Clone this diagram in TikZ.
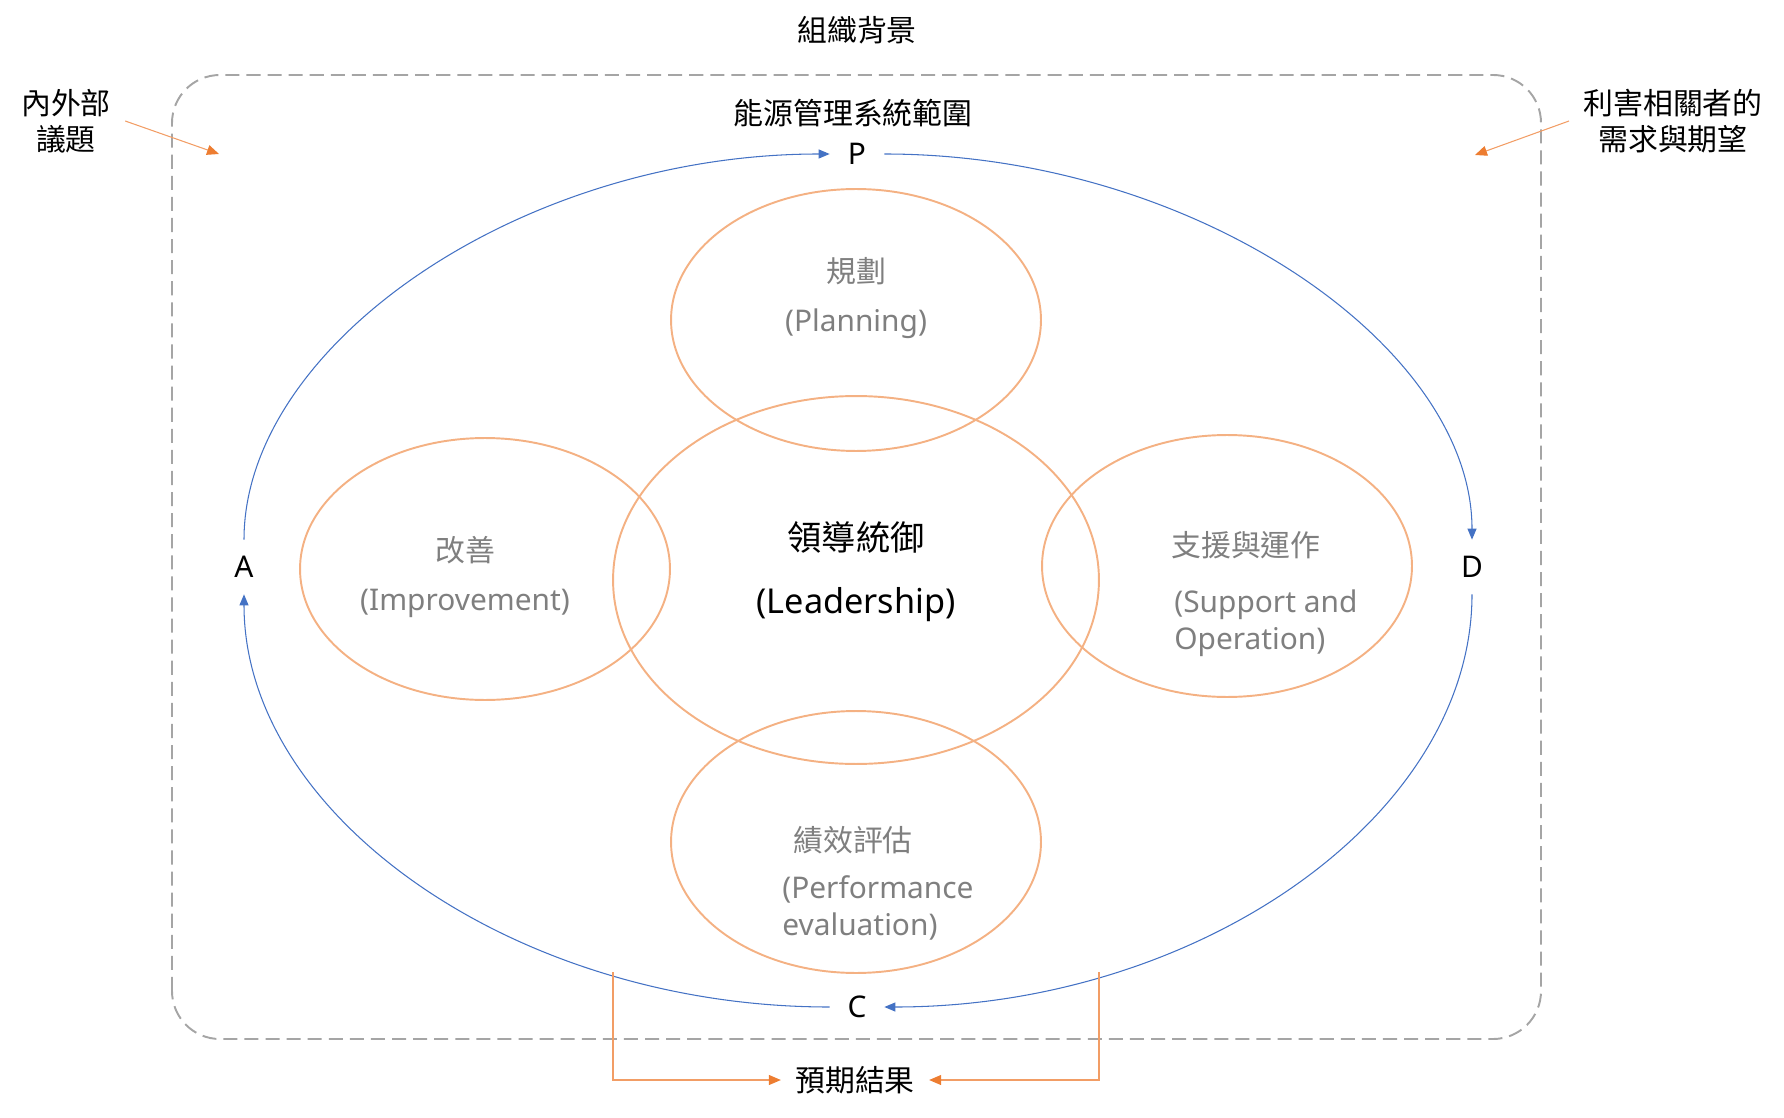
\documentclass[tikz,border=0pt]{standalone}
\usepackage{fontspec}
\setmainfont{Noto Sans}
\newfontfamily\cjk{Noto Sans CJK TC}
\usepackage{xcolor}
\usepackage{tikz}
\usetikzlibrary{arrows.meta,shapes,calc}
\definecolor{loopblue}{HTML}{4472C4}
\definecolor{lightorange}{HTML}{F4B183}
\definecolor{darkorange}{HTML}{ED7D31}
\definecolor{boxgray}{HTML}{A5A5A5}
\definecolor{textgray}{HTML}{7F7F7F}
\tikzstyle{area}=[ellipse, draw=lightorange,% one element of the system
line width=1.1pt, inner sep=0pt, minimum width=7.4cm, minimum height=5.24cm]
\tikzstyle{phase}=[circle, inner sep=0pt, minimum size=1.08cm]
\tikzstyle{pdca}=[draw=loopblue, line width=0.6pt, -{Triangle[length=0.22cm,width=0.18cm]}]
\tikzstyle{outarrow}=[draw=darkorange!75, line width=0.6pt, -{Triangle[length=0.24cm,width=0.2cm,color=darkorange]}]
\tikzstyle{zh}=[font=\fontsize{17}{20.4}\cjk]
\tikzstyle{graytext}=[text=textgray]

\begin{document}
\begin{tikzpicture}[x=0.02cm, y=0.02cm, font=\fontsize{17}{20.4}\selectfont]
\useasboundingbox (0,0) rectangle (1784,1117);
% context and scope
\node[zh] (context) at (857,1087) {組織背景};
\draw[boxgray, line width=1.1pt, dash pattern=on 8pt off 4pt, rounded corners=0.96cm] (172,78) rectangle (1541,1042);
\node[zh] (scope) at (853,1004) {能源管理系統範圍};
\node[zh, align=center, inner sep=8pt] (issues) at (66,996) {內外部\\議題};
\node[zh, align=center, inner sep=8pt] (needs) at (1673,996) {利害相關者的\\需求與期望};
\coordinate (issuesend) at (219,963);
\coordinate (needsend) at (1475,962);
\draw[outarrow] (issues.east) -- (issuesend);
\draw[outarrow] (needs.west) -- (needsend);
% PDCA loop
\node[phase] (P) at (857,963) {P};
\node[phase] (A) at (244,550) {A};
\node[phase] (D) at (1472,550) {D};
\node[phase] (C) at (857,110) {C};
\draw[pdca] (A.north) .. controls +(0,194) and +(-310,0) .. (P.west);
\draw[pdca] (P.east) .. controls +(310,0) and +(0,194) .. (D.north);
\draw[pdca] (D.south) .. controls +(0,-222) and +(314,0) .. (C.east);
\draw[pdca] (C.west) .. controls +(-314,0) and +(0,-222) .. (A.south);
% elements
\node[area] (plan) at (856,797) {};
\node[area, minimum width=9.72cm, minimum height=7.36cm] (lead) at (856,537) {};
\node[area] (impr) at (485,548) {};
\node[area] (supp) at (1227,551) {};
\node[area] (perf) at (856,275) {};
\node[zh, graytext] (planzh) at (856,846) {規劃};
\node[graytext] (planen) at (856,793) {(Planning)};
\node[zh, graytext] (imprzh) at (465,567) {改善};
\node[graytext] (impren) at (465,514) {(Improvement)};
\node[font=\fontsize{19.5}{23}\cjk] (leadzh) at (856,580) {領導統御};
\node[font=\fontsize{19.5}{23}\selectfont] (leaden) at (856,512) {(Leadership)};
\node[zh, graytext] (suppzh) at (1246,572) {支援與運作};
\node[graytext, align=left, anchor=west, inner sep=0pt, font=\fontsize{17}{21}\selectfont] (suppen) at (1174,494) {(Support and\\Operation)};
\node[zh, graytext] (perfzh) at (853,277) {績效評估};
\node[graytext, align=left, anchor=west, inner sep=0pt, font=\fontsize{17}{21}\selectfont] (perfen) at (782,209) {(Performance\\evaluation)};
% intended outcomes
\node[zh, inner sep=8pt] (result) at (855,37) {預期結果};
\coordinate (outL) at (613,145);
\coordinate (outR) at (1099,145);
\draw[outarrow] (outL) |- (result.west);
\draw[outarrow] (outR) |- (result.east);
\end{tikzpicture}
\end{document}
